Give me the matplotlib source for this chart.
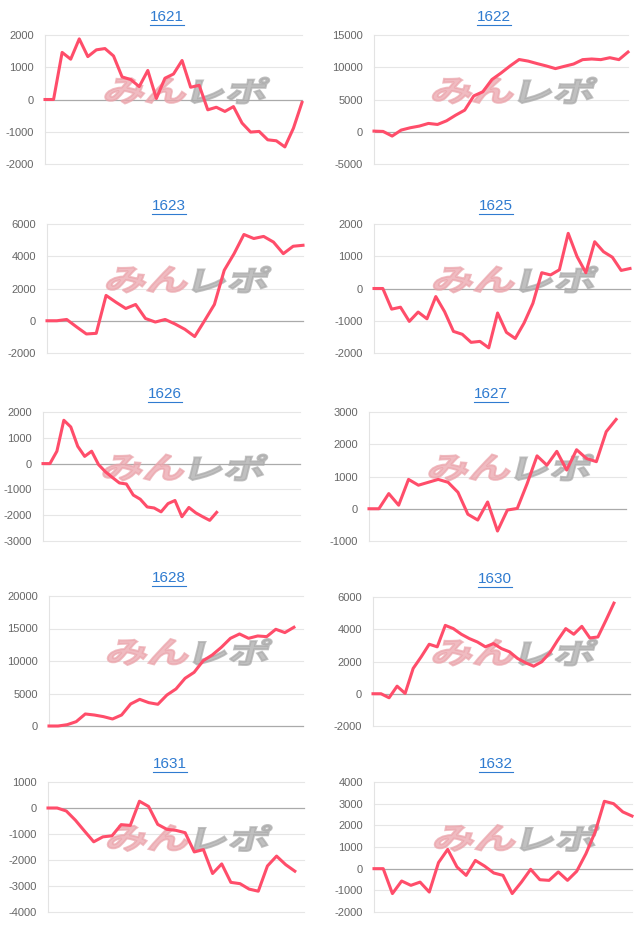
import matplotlib
matplotlib.use("Agg")
import matplotlib.pyplot as plt
from matplotlib.textpath import TextPath
from matplotlib.patches import PathPatch
from matplotlib.font_manager import FontProperties
from matplotlib.transforms import Affine2D
from matplotlib.lines import Line2D

plt.rcParams['font.family'] = ['Liberation Sans', 'DejaVu Sans']

# ---- data ----
titles = ["1621", "1622", "1623", "1625", "1626", "1627", "1628", "1630", "1631", "1632"]

v1621 = [0, 0, 1460, 1250, 1880, 1330, 1540, 1580, 1350, 700, 620, 400, 900, 30, 660, 790,
         1210, 380, 440, -320, -240, -370, -220, -730, -1010, -990, -1250, -1280, -1470, -890, -90]
v1622 = [100, 50, -670, 260, 620, 880, 1290, 1130, 1700, 2570, 3350, 5560, 6200, 8100, 9100,
         10200, 11200, 10950, 10560, 10200, 9790, 10150, 10500, 11180, 11280, 11180, 11480, 11180, 12360]
v1623 = [0, 0, 80, -380, -820, -780, 1570, 1150, 760, 1010, 140, -80, 80, -200, -530, -980,
         0, 1010, 3130, 4160, 5350, 5100, 5230, 4880, 4160, 4620, 4680]
v1625 = [0, 0, -640, -580, -1020, -730, -940, -250, -720, -1330, -1420, -1670, -1640, -1840,
         -760, -1360, -1550, -1070, -460, 490, 420, 580, 1710, 990, 490, 1450, 1140, 970, 560, 620]
v1626 = [0, 0, 480, 1680, 1420, 670, 280, 480, -40, -320, -540, -750, -790, -1220, -1380,
         -1680, -1720, -1870, -1550, -1430, -2060, -1700, -1910, -2060, -2200, -1890]
v1627 = [0, 0, 470, 110, 910, 730, 820, 910, 820, 510, -170, -350, 210, -690, -40, 10, 780,
         1640, 1350, 1780, 1200, 1830, 1560, 1460, 2390, 2770]
v1628 = [0, 0, 200, 670, 1850, 1690, 1440, 1080, 1690, 3390, 4100, 3590, 3340, 4770, 5700,
         7340, 8260, 10050, 10930, 12110, 13490, 14160, 13490, 13850, 13750, 14880, 14370, 15190]
v1630 = [0, 0, -250, 470, 20, 1570, 2290, 3070, 2910, 4240, 4040, 3690, 3420, 3210, 2910,
         3110, 2800, 2600, 2190, 1920, 1710, 1980, 2530, 3320, 4040, 3690, 4180, 3460, 3520, 4550, 5620]
v1631 = [0, 0, -115, -470, -890, -1300, -1110, -1070, -640, -670, 260, 60, -630, -820, -860,
         -950, -1690, -1600, -2520, -2150, -2860, -2910, -3120, -3200, -2230, -1850, -2180, -2430]
v1632 = [0, 0, -1150, -570, -770, -620, -1080, 280, 890, 80, -310, 380, 120, -200, -310,
         -1150, -620, -30, -510, -540, -150, -540, -120, 690, 1690, 3110, 3000, 2620, 2430]

series = [v1621, v1622, v1623, v1625, v1626, v1627, v1628, v1630, v1631, v1632]
# number of x slots (dates) on each axis
slot_counts = [31, 29, 27, 30, 38, 27, 29, 33, 29, 29]
y_ticks = [
    [-2000, -1000, 0, 1000, 2000],
    [-5000, 0, 5000, 10000, 15000],
    [-2000, 0, 2000, 4000, 6000],
    [-2000, -1000, 0, 1000, 2000],
    [-3000, -2000, -1000, 0, 1000, 2000],
    [-1000, 0, 1000, 2000, 3000],
    [0, 5000, 10000, 15000, 20000],
    [-2000, 0, 2000, 4000, 6000],
    [-4000, -3000, -2000, -1000, 0, 1000],
    [-2000, -1000, 0, 1000, 2000, 3000, 4000],
]

# ---- layout (pixels in a 640x931 image) ----
W, H = 640, 931
boxes = [  # left, top, right, bottom
    (45, 35, 302, 164), (374, 35, 628, 164),
    (47, 224, 303, 353), (374, 224, 630, 353),
    (43, 412, 300, 541), (369, 412, 626, 541),
    (49, 596, 303, 726), (373, 597, 630, 726),
    (48, 782, 304, 912), (374, 782, 632, 912),
]
title_x = [167, 494, 169, 496, 165, 491, 169, 495, 170, 496]

LINE = '#ff4d6a'
TITLE_C = '#2f7bd0'
TICK_C = '#666666'

fig = plt.figure(figsize=(W / 100, H / 100), dpi=100)

wm_fp = FontProperties(family='Noto Sans CJK JP', weight='bold')
p_pink = TextPath((0, 0), "みん", size=40, prop=wm_fp)
p_gray = TextPath((0, 0), "レポ", size=40, prop=wm_fp)


def place(path, x_left, y_top, w, h):
    ext = path.get_extents()
    tr = (Affine2D().translate(-ext.x0, -ext.y0)
          .scale(w / ext.width, h / ext.height)
          .skew_deg(14, 0)
          .translate(x_left, H - y_top - h))
    return tr


titles_txt = []
for i, (name, vals) in enumerate(zip(titles, series)):
    l, t, r, b = boxes[i]
    ax = fig.add_axes([l / W, 1 - b / H, (r - l) / W, (b - t) / H])
    ax.set_facecolor('none')
    xs = list(range(len(vals)))
    ax.plot(xs, vals, color=LINE, lw=2.2, solid_joinstyle='round', zorder=3, clip_on=False)
    ax.set_xlim(0, slot_counts[i] - 1)
    yt = y_ticks[i]
    ax.set_ylim(yt[0], yt[-1])
    ax.set_yticks(yt)
    ax.set_yticklabels([str(v) for v in yt])
    ax.set_xticks([])
    for v in yt:
        ax.axhline(v, color='#aaaaaa' if v == 0 else '#e6e6e6', lw=0.9 if v == 0 else 0.8,
                   zorder=1, clip_on=False)
    for s in ['top', 'right', 'bottom']:
        ax.spines[s].set_visible(False)
    ax.spines['left'].set_color('#e3e3e3')
    ax.spines['left'].set_linewidth(0.8)
    ax.tick_params(axis='y', length=0, pad=8, labelsize=8, labelcolor=TICK_C)

    # watermark
    cx = (l + r) / 2 + 10
    cy = (t + b) / 2 - 9
    left_px = cx - 80
    top_px = cy - 13
    pp = PathPatch(p_pink, facecolor='#eba5ac', edgecolor='#eba5ac', linewidth=1.4,
                   alpha=0.75, zorder=2,
                   transform=place(p_pink, left_px, top_px, 80, 26))
    pg = PathPatch(p_gray, facecolor='#ababab', edgecolor='#ababab', linewidth=1.4,
                   alpha=0.75, zorder=2,
                   transform=place(p_gray, left_px + 87, top_px, 73, 26))
    for p in (pp, pg):
        ax.add_artist(p)
        p.set_clip_on(False)

    tt = fig.text(title_x[i] / W, 1 - (t - 18) / H, name, ha='center', va='center',
                  fontsize=11, color=TITLE_C)
    titles_txt.append(tt)

fig.canvas.draw()
rend = fig.canvas.get_renderer()
for tt in titles_txt:
    bb = tt.get_window_extent(rend)
    y = bb.y0 - 0.5
    fig.add_artist(Line2D([bb.x0 / W, bb.x1 / W], [y / H, y / H], transform=fig.transFigure,
                          color=TITLE_C, lw=0.8))

fig.savefig("out.png", dpi=100)
